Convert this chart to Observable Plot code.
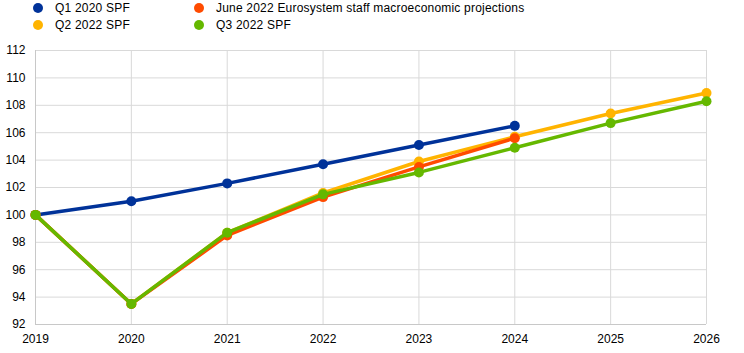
<!DOCTYPE html>
<html>
<head>
<meta charset="utf-8">
<script src="https://cdn.jsdelivr.net/npm/d3@7"></script>
<script src="https://cdn.jsdelivr.net/npm/@observablehq/plot@0.6"></script>
<style>
  body { margin: 0; background: #fff; font-family: "Liberation Sans", Arial, sans-serif; }
  #wrap { position: relative; width: 744px; height: 353px; }
  #legend { position: relative; height: 40px; font-size: 12px; color: #000; letter-spacing: 0.2px; }
  .item { position: absolute; display: flex; align-items: center; white-space: nowrap; }
  .dot { width: 10px; height: 10px; border-radius: 50%; margin-right: 12px; }
  svg { display: block; }
</style>
</head>
<body>
<div id="wrap">
  <div id="legend"></div>
  <div id="chart"></div>
</div>
<script>
const years = [2019, 2020, 2021, 2022, 2023, 2024, 2025, 2026];
const seriesNames = ["Q1 2020 SPF", "Q2 2022 SPF", "June 2022 Eurosystem staff macroeconomic projections", "Q3 2022 SPF"];
const seriesColors = ["#003299", "#FFB400", "#FF4B00", "#65B800"];
const q1_2020 = [100, 101.0, 102.3, 103.7, 105.1, 106.5];
const q2_2022 = [100, 93.5, 98.7, 101.6, 103.9, 105.7, 107.4, 108.9];
const june2022 = [100, 93.5, 98.5, 101.3, 103.5, 105.6];
const q3_2022 = [100, 93.5, 98.7, 101.5, 103.1, 104.9, 106.7, 108.3];
const yTicks = [92, 94, 96, 98, 100, 102, 104, 106, 108, 110, 112];

const allValues = [q1_2020, q2_2022, june2022, q3_2022];
const series = seriesNames.map((name, i) => ({
  name, color: seriesColors[i],
  data: allValues[i].map((v, j) => ({year: years[j], value: v}))
}));

// Legend
const legendPos = [[33, 1], [33, 18], [194, 1], [194, 18]];
const legend = document.getElementById("legend");
series.forEach((s, i) => {
  const it = document.createElement("div");
  it.className = "item";
  it.style.left = legendPos[i][0] + "px";
  it.style.top = legendPos[i][1] + "px";
  it.innerHTML = `<span class="dot" style="background:${s.color}"></span><span>${s.name}</span>`;
  legend.appendChild(it);
});

const marks = [
  Plot.gridX(years, {stroke: "#d9d9d9", strokeOpacity: 1}),
  Plot.gridY(yTicks, {stroke: "#d9d9d9", strokeOpacity: 1}),
  Plot.ruleY([92], {stroke: "#c8c8c8"}),
  Plot.ruleX([2019], {stroke: "#c8c8c8"}),
  Plot.axisX({ticks: years, tickFormat: d => String(d), tickSize: 0, tickPadding: 10, fontSize: 12, label: null}),
  Plot.axisY({ticks: yTicks, tickSize: 0, tickPadding: 10, fontSize: 12, label: null})
];
series.forEach(s => {
  marks.push(Plot.line(s.data, {x: "year", y: "value", stroke: s.color, strokeWidth: 3.5}));
  marks.push(Plot.dot(s.data, {x: "year", y: "value", fill: s.color, r: 5}));
});

const chart = Plot.plot({
  width: 744,
  height: 313,
  marginTop: 10,
  marginBottom: 29,
  marginLeft: 35,
  marginRight: 38,
  style: {fontFamily: "Liberation Sans, Arial, sans-serif", fontSize: "12px", color: "#000", background: "#fff"},
  x: {domain: [2019, 2026], label: null},
  y: {domain: [92, 112], label: null},
  marks
});
document.getElementById("chart").appendChild(chart);
</script>
</body>
</html>
